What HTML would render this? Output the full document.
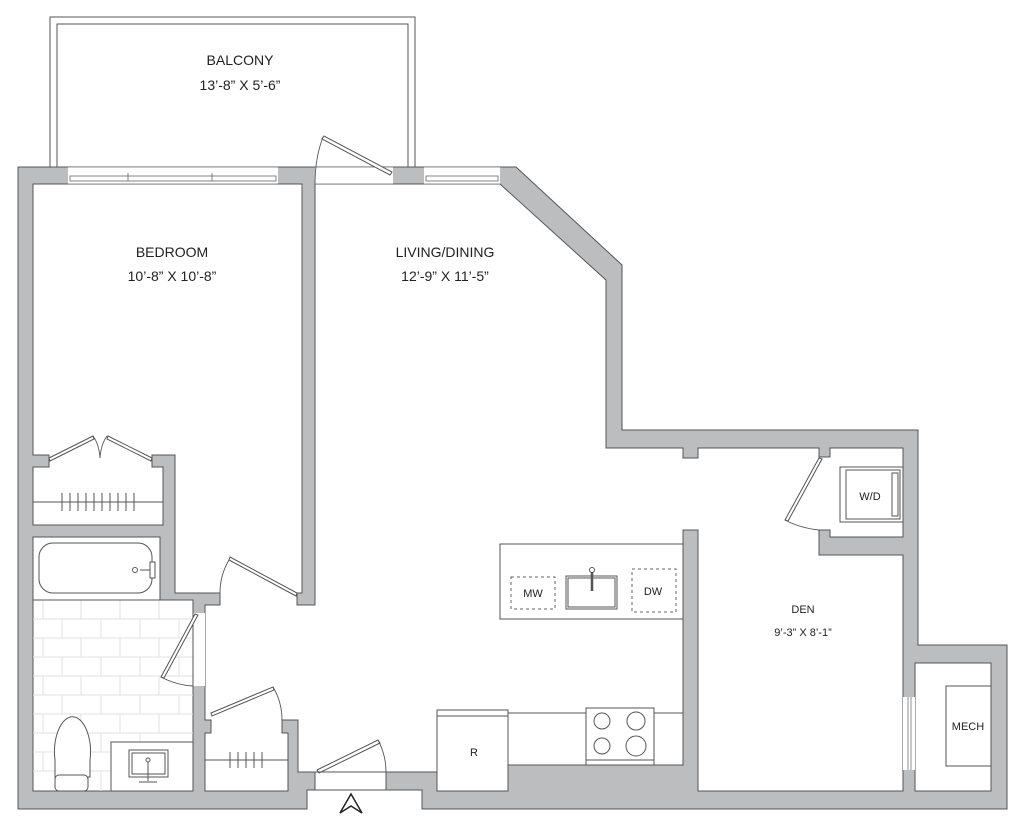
<!DOCTYPE html>
<html><head><meta charset="utf-8"><style>
html,body{margin:0;padding:0;background:#fff;}
svg{display:block;}
text{font-family:"Liberation Sans",sans-serif;fill:#222;text-anchor:middle;}
</style></head><body>
<svg width="1024" height="832" viewBox="0 0 1024 832" xmlns="http://www.w3.org/2000/svg">
<!-- balcony -->
<g fill="none" stroke="#555" stroke-width="1">
<polyline points="50,167 50,17 415,17 415,167"/>
<polyline points="57,167 57,24 408,24 408,167"/>
</g>
<!-- outer walls -->
<polygon points="18,167 516,167 622,265 622,430 918,430 918,645 1007,645 1007,809 422,809 422,790 307,790 307,809 18,809" fill="#bcbdbf" stroke="#555" stroke-width="1"/>
<!-- main interior -->
<polygon points="315,184 500,184 606,280 606,448 683,448 683,458 698,458 698,448 819,448 819,457 830,457 830,448 903,448 903,537 830,537 830,530 819,530 819,555 903,555 903,791 698,791 698,530 683,530 683,765 437,765 437,772 386,772 386,790 315,790 315,772 298,772 298,720 282,720 282,733 288,733 288,791 205,791 205,733 211,733 211,720 205,720 205,605 220,605 220,593 175,593 175,455 152,455 152,467 163,467 163,525 33,525 33,467 49,467 49,455 33,455 33,184 302,184 302,593 297,593 297,605 315,605" fill="#fff" stroke="#555" stroke-width="1"/>
<!-- bath -->
<polygon points="33,537 160,537 160,600 193,600 193,791 33,791" fill="#fff" stroke="#555" stroke-width="1"/>
<!-- mech -->
<rect x="915" y="663" width="76" height="128" fill="#fff" stroke="#555"/>
<rect x="903" y="697" width="12" height="73" fill="#fff"/>
<line x1="908" y1="697" x2="908" y2="770" stroke="#777" stroke-width="0.8"/>
<line x1="911" y1="697" x2="911" y2="770" stroke="#777" stroke-width="0.8"/>
<rect x="946" y="686" width="45" height="80" fill="#fff" stroke="#555"/>
<!-- windows -->
<g stroke="#555" stroke-width="1" fill="#fff">
<rect x="68" y="167" width="210" height="17" stroke="none"/>
<rect x="424" y="167" width="76" height="17" stroke="none"/>
<rect x="315" y="167" width="78" height="17" stroke="none"/>
</g>
<g stroke="#666" stroke-width="0.8" fill="none">
<line x1="68" y1="167" x2="278" y2="167"/><line x1="68" y1="184" x2="278" y2="184"/>
<rect x="70" y="176" width="206" height="5"/>
<line x1="128" y1="173" x2="128" y2="181"/><line x1="212" y1="173" x2="212" y2="181"/>
<line x1="424" y1="167" x2="500" y2="167"/><line x1="424" y1="184" x2="500" y2="184"/>
<rect x="426" y="176" width="72" height="5"/>
<line x1="315" y1="167" x2="393" y2="167"/><line x1="315" y1="184" x2="393" y2="184"/>
</g>
<!-- bath tiles -->
<g stroke="#e2e2e2" stroke-width="1">
<line x1="33" y1="619" x2="193" y2="619"/><line x1="33" y1="638" x2="193" y2="638"/>
<line x1="33" y1="657" x2="193" y2="657"/><line x1="33" y1="676" x2="193" y2="676"/>
<line x1="33" y1="695" x2="193" y2="695"/><line x1="33" y1="714" x2="193" y2="714"/>
<line x1="33" y1="733" x2="193" y2="733"/><line x1="33" y1="752" x2="111" y2="752"/>
<line x1="33" y1="771" x2="111" y2="771"/>
<line x1="43" y1="600" x2="43" y2="619"/><line x1="81" y1="600" x2="81" y2="619"/><line x1="120" y1="600" x2="120" y2="619"/><line x1="159" y1="600" x2="159" y2="619"/>
<line x1="62" y1="619" x2="62" y2="638"/><line x1="101" y1="619" x2="101" y2="638"/><line x1="140" y1="619" x2="140" y2="638"/><line x1="179" y1="619" x2="179" y2="638"/>
<line x1="43" y1="638" x2="43" y2="657"/><line x1="81" y1="638" x2="81" y2="657"/><line x1="120" y1="638" x2="120" y2="657"/><line x1="159" y1="638" x2="159" y2="657"/>
<line x1="62" y1="657" x2="62" y2="676"/><line x1="101" y1="657" x2="101" y2="676"/><line x1="140" y1="657" x2="140" y2="676"/><line x1="179" y1="657" x2="179" y2="676"/>
<line x1="43" y1="676" x2="43" y2="695"/><line x1="81" y1="676" x2="81" y2="695"/><line x1="120" y1="676" x2="120" y2="695"/><line x1="159" y1="676" x2="159" y2="695"/>
<line x1="62" y1="695" x2="62" y2="714"/><line x1="101" y1="695" x2="101" y2="714"/><line x1="140" y1="695" x2="140" y2="714"/><line x1="179" y1="695" x2="179" y2="714"/>
<line x1="43" y1="714" x2="43" y2="733"/><line x1="81" y1="714" x2="81" y2="733"/><line x1="120" y1="714" x2="120" y2="733"/><line x1="159" y1="714" x2="159" y2="733"/>
<line x1="62" y1="733" x2="62" y2="752"/><line x1="101" y1="733" x2="101" y2="752"/><line x1="140" y1="733" x2="140" y2="742"/>
<line x1="43" y1="752" x2="43" y2="771"/><line x1="81" y1="752" x2="81" y2="771"/>
<line x1="62" y1="771" x2="62" y2="791"/><line x1="101" y1="771" x2="101" y2="791"/>
</g>
<!-- fixtures -->
<g stroke="#555" stroke-width="1" fill="#fff">
<line x1="33" y1="600" x2="160" y2="600"/>
<rect x="39" y="543" width="113" height="50" rx="14"/>
<circle cx="135" cy="570" r="2.5"/><line x1="140" y1="570" x2="152" y2="570"/><rect x="150" y="562" width="5" height="16"/>
<rect x="111" y="742" width="82" height="49"/>
<rect x="129" y="750" width="39" height="27"/><rect x="132" y="753" width="33" height="21" fill="none"/>
<line x1="148" y1="762" x2="148" y2="781"/><circle cx="148" cy="760" r="2"/><line x1="139" y1="782" x2="157" y2="782"/>
<path d="M55,777 L55,760 A18,35 0 1 1 90,760 L90,777 Z"/>
<rect x="55" y="775" width="33" height="16" rx="4"/>
<!-- closets rods -->
<line x1="33" y1="502" x2="163" y2="502" fill="none"/>
<line x1="205" y1="760" x2="288" y2="760"/>
<!-- kitchen -->
<rect x="500" y="544" width="183" height="75"/>
<rect x="566" y="576" width="51" height="33"/><rect x="568" y="578" width="47" height="29" fill="none"/>
<line x1="592" y1="572" x2="592" y2="591" stroke-width="2.5"/><circle cx="592" cy="570" r="2.5"/>
<line x1="508" y1="713" x2="683" y2="713"/>
<rect x="437" y="710" width="71" height="81"/><line x1="437" y1="716" x2="508" y2="716"/>
<rect x="586" y="708" width="68" height="57"/><line x1="586" y1="760" x2="654" y2="760"/>
<circle cx="602" cy="721" r="8"/><circle cx="636" cy="721" r="9"/><circle cx="602" cy="746" r="8"/><circle cx="636" cy="746" r="10"/>
<!-- W/D -->
<rect x="840" y="467" width="63" height="55"/><rect x="846" y="470" width="54" height="49" fill="none"/><rect x="892" y="473" width="6" height="43" fill="none"/>
</g>
<g stroke="#666" stroke-dasharray="3,3" fill="none" stroke-width="1">
<rect x="511" y="577" width="44" height="32"/>
<rect x="632" y="569" width="44" height="43"/>
</g>
<g stroke="#555" stroke-width="1">
<line x1="62" y1="493" x2="62" y2="511"/><line x1="70" y1="493" x2="70" y2="511"/><line x1="78" y1="493" x2="78" y2="511"/><line x1="86" y1="493" x2="86" y2="511"/><line x1="94" y1="493" x2="94" y2="511"/><line x1="102" y1="493" x2="102" y2="511"/><line x1="110" y1="493" x2="110" y2="511"/><line x1="118" y1="493" x2="118" y2="511"/><line x1="126" y1="493" x2="126" y2="511"/><line x1="134" y1="493" x2="134" y2="511"/>
<line x1="230" y1="752" x2="230" y2="768"/><line x1="238" y1="752" x2="238" y2="768"/><line x1="246" y1="752" x2="246" y2="768"/><line x1="254" y1="752" x2="254" y2="768"/><line x1="262" y1="752" x2="262" y2="768"/>
</g>
<!-- doors -->
<rect x="193" y="613" width="12" height="73" fill="#fff"/>
<line x1="193" y1="613" x2="193" y2="686" stroke="#555"/>
<g stroke="#555" stroke-width="1" fill="#fff">
<polygon points="296,596 229,560 230,557 297,593"/>
<polygon points="195,614 161,677 164,678 198,615"/>
<polygon points="49,458 93,436 94,439 50,461"/>
<polygon points="152,458 108,436 107,439 151,461"/>
<polygon points="211,713 273,687 274,690 212,716"/>
<polygon points="819,458 785,520 788,521 822,459"/>
<polygon points="390,175 322,139 324,136 392,172"/>
<polygon points="317,770 378,740 380,743 319,773"/>
</g>
<g stroke="#555" stroke-width="0.9" fill="none">
<path d="M229,560 Q220,575 220,593"/>
<path d="M161,677 Q176,685 193,686"/>
<path d="M93,436 Q99,444 100,458 Q101,444 107,436"/>
<path d="M273,687 Q282,702 282,720"/>
<path d="M785,520 Q800,528 819,530"/>
<path d="M323,137 Q315,158 315,184"/>
<path d="M378,740 Q386,755 386,772"/>
<line x1="315" y1="772" x2="386" y2="772"/>
</g>
<!-- north arrow -->
<path d="M340,813 L351,794 L362,813 L351,806 Z" fill="none" stroke="#222" stroke-width="1.5"/>
<!-- labels -->
<text x="240" y="65" font-size="14">BALCONY</text>
<text x="240" y="90" font-size="14">13’-8” X 5’-6”</text>
<text x="172" y="257" font-size="14">BEDROOM</text>
<text x="172" y="281" font-size="14">10’-8” X 10’-8”</text>
<text x="445" y="257" font-size="14">LIVING/DINING</text>
<text x="445" y="281" font-size="14">12’-9” X 11’-5”</text>
<text x="803" y="613" font-size="11">DEN</text>
<text x="803" y="636" font-size="11">9’-3” X 8’-1”</text>
<text x="870" y="500" font-size="11">W/D</text>
<text x="533" y="597" font-size="11">MW</text>
<text x="653" y="595" font-size="11">DW</text>
<text x="474" y="756" font-size="11">R</text>
<text x="968" y="730" font-size="11">MECH</text>
</svg>
</body></html>
